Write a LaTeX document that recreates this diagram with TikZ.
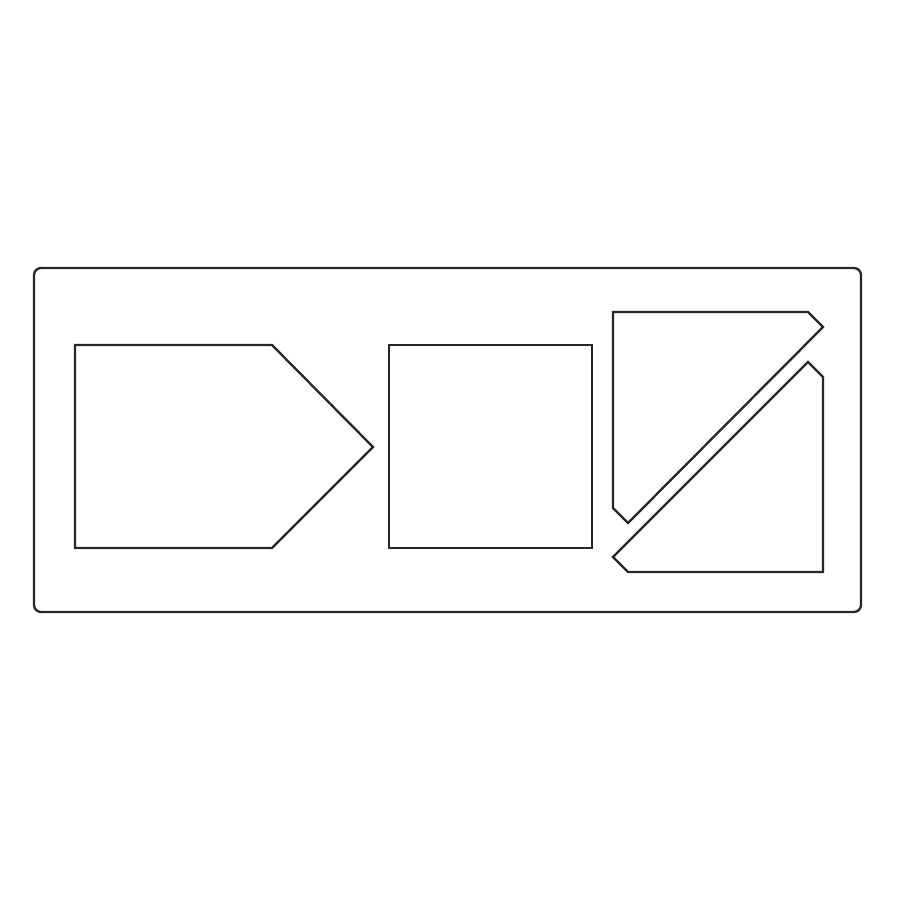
\documentclass[tikz,border=0pt]{standalone}
\begin{document}
\begin{tikzpicture}[x=0.01cm,y=-0.01cm]
	\tikzstyle{gabarit}=[line width=0.65pt,draw=black!85,line join=miter]
	\tikzstyle{cadre}=[gabarit,rounded corners=2pt]
	\def\Haut{345}\def\Bas{548}
	%
	\useasboundingbox (0,0) rectangle (900,900);
	\draw[cadre] (34,268) rectangle (861,612);
	%
	\draw[gabarit] (75,\Haut)--(272,\Haut)--(373,447)--(272,\Bas)--(75,\Bas)--cycle;
	\draw[gabarit] (389,\Haut) rectangle (592,\Bas);
	%
	\draw[gabarit] (613,312)--(808,312)--(823,327)--(628,523)--(613,508)--cycle;
	\draw[gabarit] (613,557)--(808,362)--(823,377)--(823,572)--(628,572)--cycle;
\end{tikzpicture}
\end{document}
